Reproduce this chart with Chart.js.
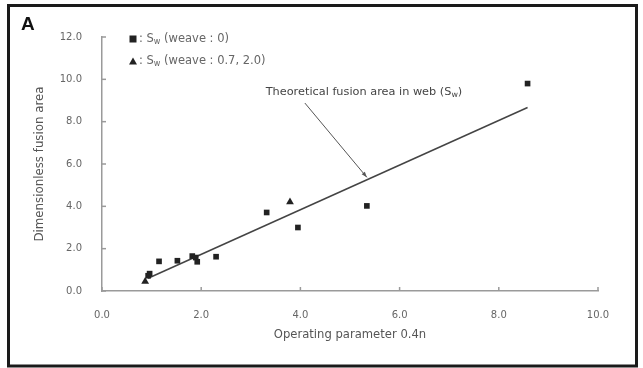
<!DOCTYPE html>
<html>
<head>
<meta charset="utf-8">
<script src="https://cdn.jsdelivr.net/npm/chart.js@4/dist/chart.umd.min.js"></script>
<style>
  html, body { margin: 0; padding: 0; background: #fff; }
  canvas { display: block; }
</style>
</head>
<body>
<canvas id="chart" width="643" height="368"></canvas>
<script>
// Measured fusion areas, weave 0 (squares)
const weave0X = [0.93, 0.96, 1.15, 1.52, 1.82, 1.92, 1.89, 2.30, 3.32, 3.95, 5.34, 8.58];
const weave0Y = [0.72, 0.82, 1.40, 1.43, 1.65, 1.38, 1.58, 1.62, 3.71, 3.00, 4.02, 9.80];
// Measured fusion areas, weave 0.7 and 2.0 (triangles)
const weaveOtherX = [0.87, 3.79];
const weaveOtherY = [0.45, 4.21];
// Theoretical fusion area in web
const theoryX = [0.93, 8.58];
const theoryY = [0.60, 8.67];
// Axis ticks
const xTicks = [0, 2, 4, 6, 8, 10];
const yTicks = [0, 2, 4, 6, 8, 10, 12];

const toPoints = (xs, ys) => xs.map((x, i) => ({ x, y: ys[i] }));

const FONT = "'DejaVu Sans', Verdana, sans-serif";
const BOLD_FONT = "'Liberation Sans', Arial, sans-serif";
const TEXT_GREY = '#666';
const AXIS_GREY = '#9a9a9a';

// Draw text made of normal and subscript runs
function drawRuns(ctx, runs, x, y, size) {
  ctx.textBaseline = 'middle';
  ctx.textAlign = 'left';
  let cx = x;
  for (const [txt, sub] of runs) {
    const s = sub ? size * 0.7 : size;
    ctx.font = s + 'px ' + FONT;
    ctx.fillText(txt, cx, sub ? y + size * 0.28 : y);
    cx += ctx.measureText(txt).width;
  }
  return cx;
}

const decorations = {
  id: 'decorations',
  afterDraw(chart) {
    const ctx = chart.ctx;
    const xs = chart.scales.x, ys = chart.scales.y;
    ctx.save();

    // inward tick marks
    ctx.strokeStyle = AXIS_GREY;
    ctx.lineWidth = 1.5;
    for (const v of xTicks) {
      const px = xs.getPixelForValue(v);
      ctx.beginPath(); ctx.moveTo(px, ys.bottom); ctx.lineTo(px, ys.bottom - 4); ctx.stroke();
    }
    for (const v of yTicks) {
      const py = ys.getPixelForValue(v);
      ctx.beginPath(); ctx.moveTo(xs.left, py); ctx.lineTo(xs.left + 4, py); ctx.stroke();
    }

    // legend
    ctx.fillStyle = '#222';
    const lx = 133;
    ctx.fillRect(lx - 3.5, 39 - 3.5, 7, 7);
    ctx.beginPath();
    ctx.moveTo(lx, 57.5); ctx.lineTo(lx + 4, 64.5); ctx.lineTo(lx - 4, 64.5); ctx.closePath(); ctx.fill();
    ctx.fillStyle = TEXT_GREY;
    drawRuns(ctx, [[': S', false], ['w', true], [' (weave : 0)', false]], lx + 6, 39, 11.5);
    drawRuns(ctx, [[': S', false], ['w', true], [' (weave : 0.7, 2.0)', false]], lx + 6, 61, 11.5);

    // annotation for theoretical line
    const ax0 = xs.getPixelForValue(4.09), ay0 = ys.getPixelForValue(8.88);
    const ax1 = xs.getPixelForValue(5.34), ay1 = ys.getPixelForValue(5.37);
    ctx.strokeStyle = '#555';
    ctx.lineWidth = 1;
    ctx.beginPath(); ctx.moveTo(ax0, ay0); ctx.lineTo(ax1, ay1); ctx.stroke();
    const ang = Math.atan2(ay1 - ay0, ax1 - ax0);
    ctx.fillStyle = '#555';
    ctx.beginPath();
    ctx.moveTo(ax1, ay1);
    ctx.lineTo(ax1 - 6 * Math.cos(ang - 0.35), ay1 - 6 * Math.sin(ang - 0.35));
    ctx.lineTo(ax1 - 6 * Math.cos(ang + 0.35), ay1 - 6 * Math.sin(ang + 0.35));
    ctx.closePath(); ctx.fill();
    ctx.fillStyle = '#444';
    drawRuns(ctx, [['Theoretical fusion area in web (S', false], ['w', true], [')', false]],
      xs.getPixelForValue(3.3), ys.getPixelForValue(9.4), 11.3);

    // panel letter
    ctx.fillStyle = '#111';
    ctx.font = 'bold 19px ' + BOLD_FONT;
    ctx.textBaseline = 'middle';
    ctx.textAlign = 'left';
    ctx.fillText('A', 21, 25);

    // frame
    ctx.strokeStyle = '#1a1a1a';
    ctx.lineWidth = 3;
    ctx.strokeRect(8.5, 5.5, 628, 360.5);
    ctx.restore();
  }
};

new Chart(document.getElementById('chart'), {
  type: 'scatter',
  data: {
    datasets: [
      {
        label: 'weave 0',
        data: toPoints(weave0X, weave0Y),
        pointStyle: 'rect',
        pointRadius: 4,
        backgroundColor: '#222',
        borderColor: '#222',
        borderWidth: 0
      },
      {
        label: 'weave 0.7, 2.0',
        data: toPoints(weaveOtherX, weaveOtherY),
        pointStyle: 'triangle',
        pointRadius: 4.5,
        backgroundColor: '#222',
        borderColor: '#222',
        borderWidth: 0
      },
      {
        label: 'theory',
        data: toPoints(theoryX, theoryY),
        showLine: true,
        pointRadius: 0,
        borderColor: '#444',
        borderWidth: 1.5
      }
    ]
  },
  options: {
    responsive: false,
    animation: false,
    devicePixelRatio: 1,
    layout: { padding: { left: 0, top: 37, right: 45, bottom: 0 } },
    plugins: { legend: { display: false }, tooltip: { enabled: false } },
    scales: {
      x: {
        type: 'linear', min: 0, max: 10,
        afterFit(scale) { scale.height = 77; },
        afterBuildTicks(scale) { scale.ticks = xTicks.map(v => ({ value: v })); },
        grid: { display: false },
        border: { display: true, color: AXIS_GREY, width: 1.5 },
        ticks: {
          padding: 10,
          color: TEXT_GREY,
          font: { family: FONT, size: 10 },
          callback: v => v.toFixed(1)
        },
        title: {
          display: true,
          text: 'Operating parameter 0.4n',
          color: '#555',
          font: { family: FONT, size: 11.6 },
          padding: { top: 0, bottom: 26 }
        }
      },
      y: {
        type: 'linear', min: 0, max: 12,
        afterFit(scale) { scale.width = 102; },
        afterBuildTicks(scale) { scale.ticks = yTicks.map(v => ({ value: v })); },
        grid: { display: false },
        border: { display: true, color: AXIS_GREY, width: 1.5 },
        ticks: {
          padding: 12,
          color: TEXT_GREY,
          font: { family: FONT, size: 10 },
          callback: v => v.toFixed(1)
        },
        title: {
          display: true,
          text: 'Dimensionless fusion area',
          color: '#555',
          font: { family: FONT, size: 11.8 },
          padding: { top: 33, bottom: 0 }
        }
      }
    }
  },
  plugins: [decorations]
});
</script>
</body>
</html>
